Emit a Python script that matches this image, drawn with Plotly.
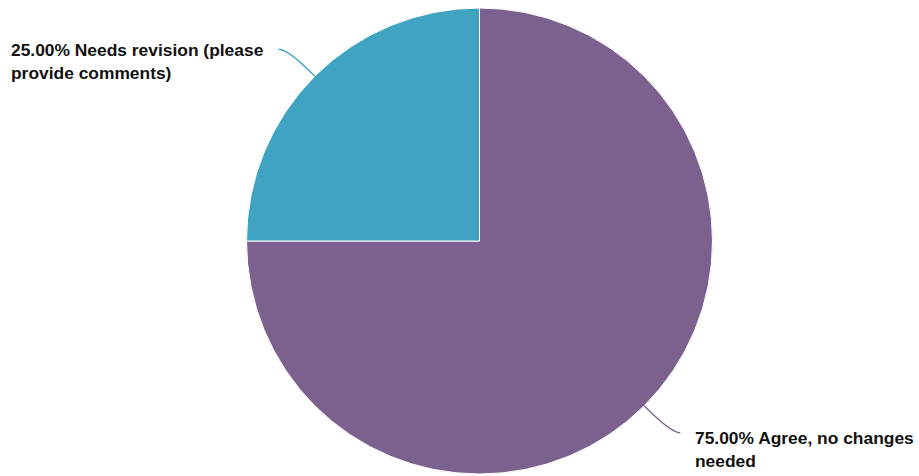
import math
import plotly.graph_objects as go

labels = ["Agree, no changes needed", "Needs revision (please provide comments)"]
values = [75, 25]
colors = ["#7C618F", "#41A3C2"]
label_text = ["75.00% Agree, no changes<br>needed", "25.00% Needs revision (please<br>provide comments)"]

W, H = 919, 476
cx, cy, R = 479.5, 241.0, 233.0  # pixel geometry of the pie

fig = go.Figure(go.Pie(
    labels=labels, values=values, sort=False, direction="clockwise", rotation=0,
    marker=dict(colors=colors, line=dict(color="white", width=1)),
    textinfo="none", hoverinfo="label+percent", showlegend=False,
    domain=dict(x=[(cx - R) / W, (cx + R) / W], y=[(H - cy - R) / H, (H - cy + R) / H]),
))

def px(x, y):
    return x / W, 1 - y / H

total = sum(values)
cum = 0
shapes = []
annotations = []
for i, v in enumerate(values):
    mid = (cum + v / 2) / total * 2 * math.pi
    cum += v
    sx = cx + R * math.sin(mid)
    sy = cy - R * math.cos(mid)
    side = 1 if math.sin(mid) > 0 else -1
    dy = 1 if math.cos(mid) < 0 else -1
    ex = sx + side * 36
    ey = sy + dy * 27
    ctx = sx + side * 26.5
    cty = ey
    p0 = px(sx, sy); p1 = px(ctx, cty); p2 = px(ex, ey)
    shapes.append(dict(type="path", xref="paper", yref="paper",
                       path=f"M {p0[0]},{p0[1]} Q {p1[0]},{p1[1]} {p2[0]},{p2[1]}",
                       line=dict(color=colors[i], width=1.3)))
    if side > 0:
        ax, xanchor, ay = ex + 13, "left", ey - 7
    else:
        ax, xanchor, ay = 9, "left", ey - 11
    a = px(ax, ay)
    annotations.append(dict(x=a[0], y=a[1], xref="paper", yref="paper",
                            xanchor=xanchor, yanchor="top", align="left",
                            showarrow=False, text=f"<b>{label_text[i]}</b>",
                            font=dict(family="Liberation Sans, Arial, sans-serif", size=17.4, color="#111111")))

fig.update_layout(width=W, height=H, margin=dict(l=0, r=0, t=0, b=0),
                  paper_bgcolor="white", plot_bgcolor="white",
                  shapes=shapes, annotations=annotations)
fig.write_html("out.html", config={"displayModeBar": False},
               post_script="document.body.style.margin='0';document.body.style.overflow='hidden';")
